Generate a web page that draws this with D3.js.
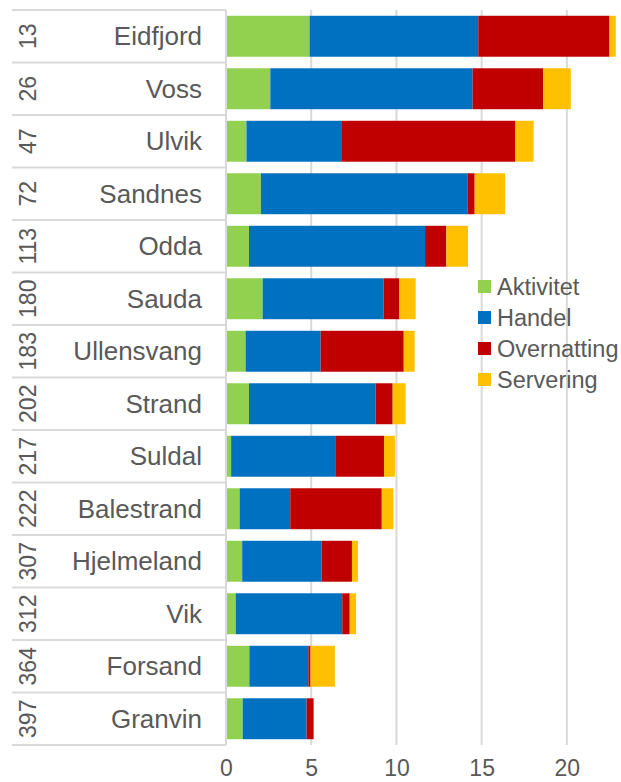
<!DOCTYPE html>
<html>
<head>
<meta charset="utf-8">
<script src="https://cdn.jsdelivr.net/npm/d3@7"></script>
<style>
  html, body { margin: 0; padding: 0; background: #fff; }
  svg { display: block; }
  text { font-family: "Liberation Sans", Arial, sans-serif; fill: #595959; }
</style>
</head>
<body>
<svg id="chart"></svg>
<script>
const width = 621, height = 782;

// data
const ranks = ["13", "26", "47", "72", "113", "180", "183", "202", "217", "222", "307", "312", "364", "397"];
const places = ["Eidfjord", "Voss", "Ulvik", "Sandnes", "Odda", "Sauda", "Ullensvang", "Strand", "Suldal", "Balestrand", "Hjelmeland", "Vik", "Forsand", "Granvin"];
const seriesNames = ["Aktivitet", "Handel", "Overnatting", "Servering"];
const aktivitet   = [4.9, 2.6, 1.2, 2.05, 1.35, 2.15, 1.15, 1.35, 0.3, 0.8, 0.95, 0.57, 1.37, 0.98];
const handel      = [9.9, 11.87, 5.56, 12.11, 10.33, 7.09, 4.4, 7.42, 6.15, 2.97, 4.65, 6.25, 3.46, 3.75];
const overnatting = [7.7, 4.14, 10.22, 0.43, 1.25, 0.93, 4.88, 1.01, 2.82, 5.37, 1.79, 0.44, 0.13, 0.41];
const servering   = [0.37, 1.62, 1.07, 1.79, 1.27, 0.96, 0.64, 0.76, 0.64, 0.68, 0.35, 0.37, 1.43, 0];
const xTicks = [0, 5, 10, 15, 20];
const colors = ["#92D050", "#0070C0", "#C00000", "#FFC000"];

const rows = places.map((p, i) => ({
  place: p, rank: ranks[i],
  Aktivitet: aktivitet[i], Handel: handel[i], Overnatting: overnatting[i], Servering: servering[i]
}));

const margin = { top: 10, left: 226, right: 3, bottom: 37 };

const svg = d3.select("#chart").attr("width", width).attr("height", height);

const x = d3.scaleLinear().domain([0, 23]).range([margin.left, width - margin.right]);
const y = d3.scaleBand().domain(places).range([margin.top, height - margin.bottom]).paddingInner(0.22).paddingOuter(0.11);
const rowY = d3.scaleBand().domain(places).range([margin.top, height - margin.bottom]);
const color = d3.scaleOrdinal().domain(seriesNames).range(colors);

// gridlines
svg.append("g")
  .selectAll("line")
  .data(xTicks.slice(1))
  .enter().append("line")
  .attr("x1", d => x(d)).attr("x2", d => x(d))
  .attr("y1", margin.top).attr("y2", height - margin.bottom)
  .attr("stroke", "#D9D9D9").attr("stroke-width", 2);

// stacked bars
const stack = d3.stack().keys(seriesNames);
const layers = stack(rows);

svg.append("g")
  .selectAll("g")
  .data(layers)
  .enter().append("g")
  .attr("fill", d => color(d.key))
  .selectAll("rect")
  .data(d => d)
  .enter().append("rect")
  .attr("x", d => x(d[0]))
  .attr("y", d => y(d.data.place))
  .attr("width", d => x(d[1]) - x(d[0]))
  .attr("height", y.bandwidth());

// category axis: row separators + vertical axis line
const catAxis = svg.append("g");
const bounds = places.map(p => rowY(p)).concat([rowY(places[places.length - 1]) + rowY.bandwidth()]);
catAxis.selectAll("line.sep")
  .data(bounds)
  .enter().append("line")
  .attr("class", "sep")
  .attr("x1", 12).attr("x2", margin.left)
  .attr("y1", d => d).attr("y2", d => d)
  .attr("stroke", "#D9D9D9").attr("stroke-width", 2);
catAxis.append("line")
  .attr("x1", margin.left).attr("x2", margin.left)
  .attr("y1", margin.top).attr("y2", height - margin.bottom)
  .attr("stroke", "#D9D9D9").attr("stroke-width", 2);

catAxis.selectAll("text.place")
  .data(rows)
  .enter().append("text")
  .attr("class", "place")
  .attr("x", 202)
  .attr("y", d => rowY(d.place) + rowY.bandwidth() / 2)
  .attr("dy", "0.35em")
  .attr("text-anchor", "end")
  .attr("font-size", 26)
  .text(d => d.place);

catAxis.selectAll("text.rank")
  .data(rows)
  .enter().append("text")
  .attr("class", "rank")
  .attr("transform", d => `translate(28,${rowY(d.place) + rowY.bandwidth() / 2}) rotate(-90)`)
  .attr("dy", "0.35em")
  .attr("text-anchor", "middle")
  .attr("font-size", 23)
  .text(d => d.rank);

// value axis
const xAxis = svg.append("g")
  .attr("transform", `translate(0,${height - margin.bottom})`)
  .call(d3.axisBottom(x).tickValues(xTicks).tickSize(0).tickPadding(15));
xAxis.select(".domain").remove();
xAxis.selectAll("text").attr("font-size", 23).attr("font-family", "Liberation Sans, Arial, sans-serif").attr("fill", "#595959");

// legend
const legend = svg.append("g")
  .selectAll("g")
  .data(seriesNames)
  .enter().append("g")
  .attr("transform", (d, i) => `translate(478,${287 + i * 31})`);
legend.append("rect")
  .attr("x", 0).attr("y", -7)
  .attr("width", 13).attr("height", 13)
  .attr("fill", d => color(d));
legend.append("text")
  .attr("x", 19).attr("dy", "0.35em")
  .attr("font-size", 23.5)
  .text(d => d);
</script>
</body>
</html>
